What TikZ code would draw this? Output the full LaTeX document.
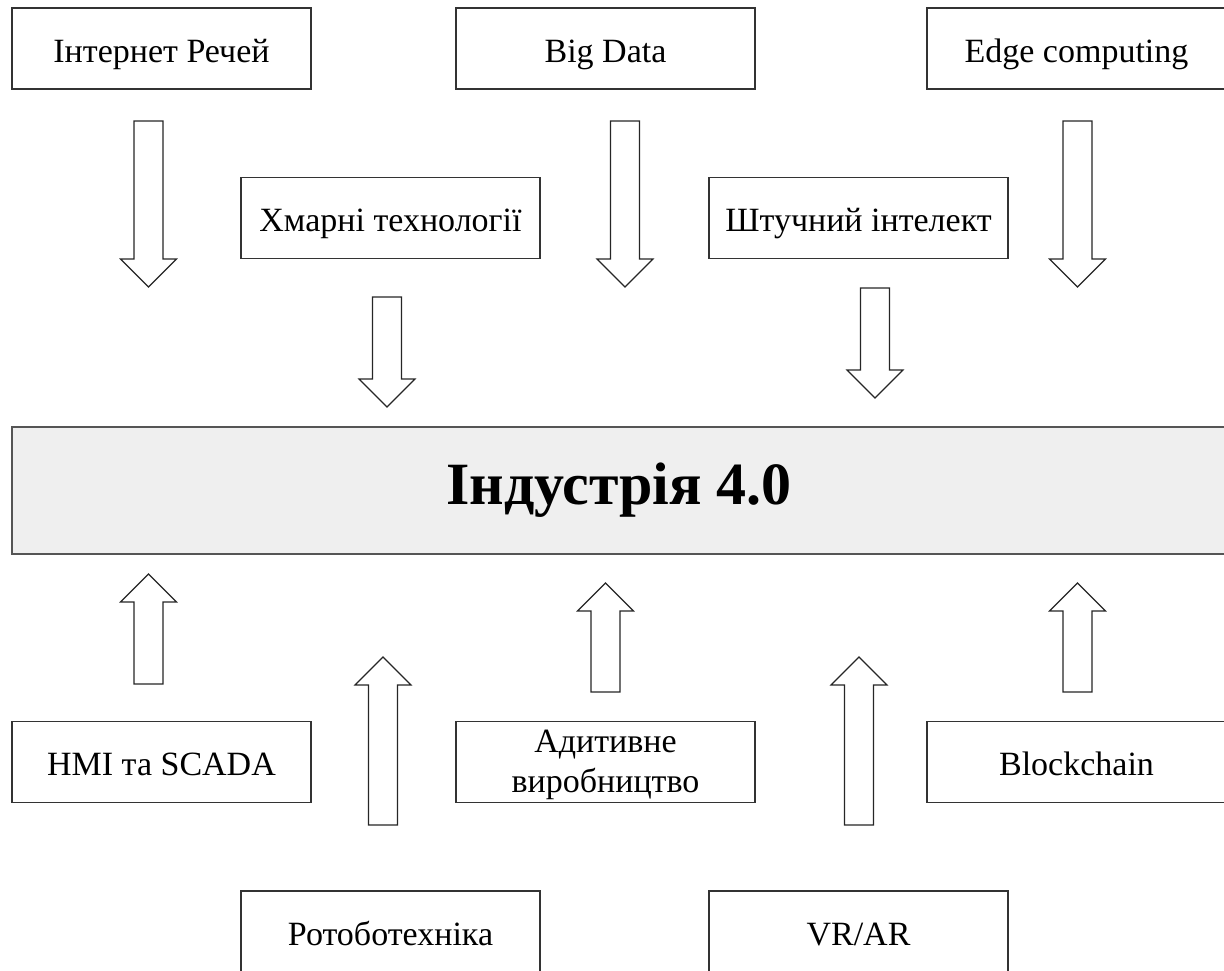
\documentclass[tikz,border=0pt]{standalone}
\usepackage{fontspec}
\setmainfont{Liberation Serif}

\definecolor{panelgray}{HTML}{EFEFEF}
\definecolor{panelline}{HTML}{555555}

\tikzset{
  box/.style={draw=black!80, line width=0.6pt, fill=white, minimum width=149.5pt,
              minimum height=40.5pt, inner sep=0pt, align=center,
              text height=14pt, text depth=0.5pt,
              font=\fontsize{17}{20}\selectfont},
  mainbox/.style={draw=panelline, line width=0.8pt, fill=panelgray, minimum width=607pt,
                  minimum height=63.5pt, font=\bfseries\fontsize{30}{36}\selectfont},
  blockarrow/.style={draw=black!85, line width=0.6pt, fill=white, line join=miter}
}

% hollow block arrow: #1 = x, #2 = tail y, #3 = tip y
\newcommand{\blockarrow}[3]{%
  \pgfmathsetmacro{\arrdir}{sign(#3-#2)}
  \draw[blockarrow] ({#1-14.5},#2) -- ({#1-14.5},{#3-28*\arrdir}) -- ({#1-28},{#3-28*\arrdir})
    -- (#1,#3) -- ({#1+28},{#3-28*\arrdir}) -- ({#1+14.5},{#3-28*\arrdir}) -- ({#1+14.5},#2) -- cycle;
}

\begin{document}
\begin{tikzpicture}[x=0.5pt,y=-0.5pt]
  \useasboundingbox (0,0) rectangle (1224,970);

  % technologies on top
  \node[box] (iot)     at (161.5,48.5)  {Інтернет Речей};
  \node[box] (bigdata) at (605.5,48.5)  {Big Data};
  \node[box] (edge)    at (1076.5,48.5) {Edge computing};
  \node[box] (cloud)   at (390.5,218)   {Хмарні технології};
  \node[box] (ai)      at (858.5,218)   {Штучний інтелект};

  % the centre panel
  \node[mainbox] (industry) at (619,490.5) {Індустрія 4.0};

  % technologies below
  \node[box] (hmi)        at (161.5,762)  {HMI та SCADA};
  \node[box, text height=, text depth=] (additive) at (605.5,762) {\strut Адитивне\\виробництво};
  \node[box] (blockchain) at (1076.5,762) {Blockchain};
  \node[box] (robotics)   at (390.5,931.5) {Ротоботехніка};
  \node[box] (vrar)       at (858.5,931.5) {VR/AR};

  % arrows down into the panel
  \blockarrow{148.5}{121}{287}
  \blockarrow{625}{121}{287}
  \blockarrow{1077.5}{121}{287}
  \blockarrow{387}{297}{407}
  \blockarrow{875}{288}{398}

  % arrows up into the panel
  \blockarrow{148.5}{684}{574}
  \blockarrow{605.5}{692}{583}
  \blockarrow{1077.5}{692}{583}
  \blockarrow{383}{825}{657}
  \blockarrow{859}{825}{657}
\end{tikzpicture}
\end{document}
